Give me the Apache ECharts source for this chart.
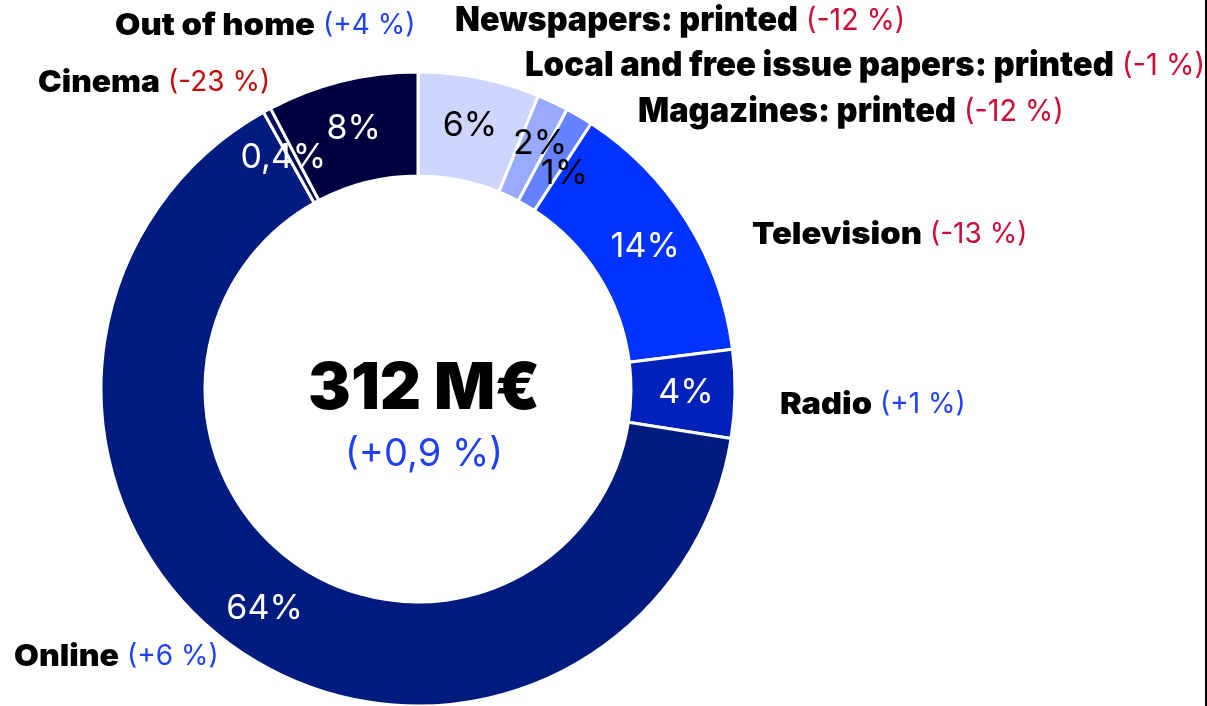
<!DOCTYPE html>
<html>
<head>
<meta charset="utf-8">
<script src="https://cdn.jsdelivr.net/npm/echarts@6/dist/echarts.min.js"></script>
<style>
  html, body { margin: 0; padding: 0; background: #fff; }
  #main { width: 1207px; height: 706px; }
</style>
</head>
<body>
<div id="main"></div>
<script>
  // media categories, clockwise from 12 o'clock
  var categories = ['Newspapers: printed', 'Local and free issue papers: printed', 'Magazines: printed',
    'Television', 'Radio', 'Online', 'Cinema', 'Out of home'];
  var shares = [6.2, 1.6, 1.4, 13.8, 4.5, 64.4, 0.4, 7.7];
  var shareLabels = ['6%', '2%', '1%', '14%', '4%', '64%', '0,4%', '8%'];
  var changes = ['(-12 %)', '(-1 %)', '(-12 %)', '(-13 %)', '(+1 %)', '(+6 %)', '(-23 %)', '(+4 %)'];
  var colors = ['#ccd6ff', '#99abff', '#6682ff', '#0033ff', '#0022bb', '#001b7e', '#000d5a', '#000040'];
  var labelColors = ['#000', '#000', '#000', '#fff', '#fff', '#fff', '#fff', '#fff'];
  var total = '312 M€';
  var totalChange = '(+0,9 %)';

  var RED = '#cf0a35', BLUE = '#1f3fff';
  var FONT = 'Inter, sans-serif';

  function changeColor(i) {
    if (categories[i] === 'Cinema') return '#c40a0a';
    return changes[i].indexOf('-') > -1 ? RED : BLUE;
  }

  // where each outside label goes: left x, middle y, width of the name part
  var spots = [
    {x: 455, y: 21, w: 343, narrow: true},
    {x: 525, y: 66, w: 589, narrow: true},
    {x: 638, y: 112, w: 318, narrow: true},
    {x: 752, y: 235, w: 170},
    {x: 780, y: 405, w: 92},
    {x: 14, y: 657, w: 105},
    {x: 38, y: 83, w: 122},
    {x: 115, y: 26, w: 200}
  ];
  // nudges for the inside labels of the thin slices
  var labelOffsets = [null, [8, -3], [10, 15], null, null, null, [-7, 4], null];

  var ctx = document.createElement('canvas').getContext('2d');
  function textWidth(txt, weight, size) {
    ctx.font = weight + ' ' + size + 'px ' + FONT;
    return ctx.measureText(txt).width;
  }

  var graphics = [];
  spots.forEach(function (s, i) {
    var nameSize = s.narrow ? 34 : 30;
    var chgSize = s.narrow ? 30 : 28;
    var k = s.w / textWidth(categories[i], 900, nameSize);
    var kc = s.narrow ? k : 1;
    graphics.push({
      type: 'text', x: s.x, y: s.y, scaleX: k,
      style: {text: categories[i], fontFamily: FONT, fontWeight: 900, fontSize: nameSize,
        fill: '#000', verticalAlign: 'middle', align: 'left'}
    });
    graphics.push({
      type: 'text', x: s.x + s.w + 8, y: s.y, scaleX: kc,
      style: {text: changes[i], fontFamily: FONT, fontWeight: 'normal', fontSize: chgSize,
        fill: changeColor(i), verticalAlign: 'middle', align: 'left'}
    });
  });

  graphics.push({
    type: 'line',
    shape: {x1: 1206, y1: 0, x2: 1206, y2: 706},
    style: {stroke: '#000', lineWidth: 2}
  });

  var data = categories.map(function (c, i) {
    var lbl = {color: labelColors[i]};
    if (labelOffsets[i]) lbl.offset = labelOffsets[i];
    return {
      name: c,
      value: shares[i],
      itemStyle: {color: colors[i]},
      label: lbl
    };
  });

  var myChart = echarts.init(document.getElementById('main'));
  var option = {
    animation: false,
    title: {
      text: total,
      subtext: totalChange,
      left: 419,
      top: 353,
      textAlign: 'center',
      itemGap: 14,
      textStyle: {fontFamily: FONT, fontWeight: 900, fontSize: 64, color: '#000'},
      subtextStyle: {fontFamily: FONT, fontSize: 38, color: BLUE}
    },
    graphic: graphics,
    series: [{
      type: 'pie',
      center: [418, 389],
      radius: [213, 317],
      startAngle: 90,
      clockwise: true,
      avoidLabelOverlap: false,
      itemStyle: {borderColor: '#fff', borderWidth: 3},
      label: {
        show: true,
        position: 'inside',
        fontFamily: FONT,
        fontSize: 34,
        overflow: 'none',
        formatter: function (p) { return shareLabels[p.dataIndex]; }
      },
      labelLayout: {hideOverlap: false},
      labelLine: {show: false},
      data: data
    }]
  };
  myChart.setOption(option);
</script>
</body>
</html>
